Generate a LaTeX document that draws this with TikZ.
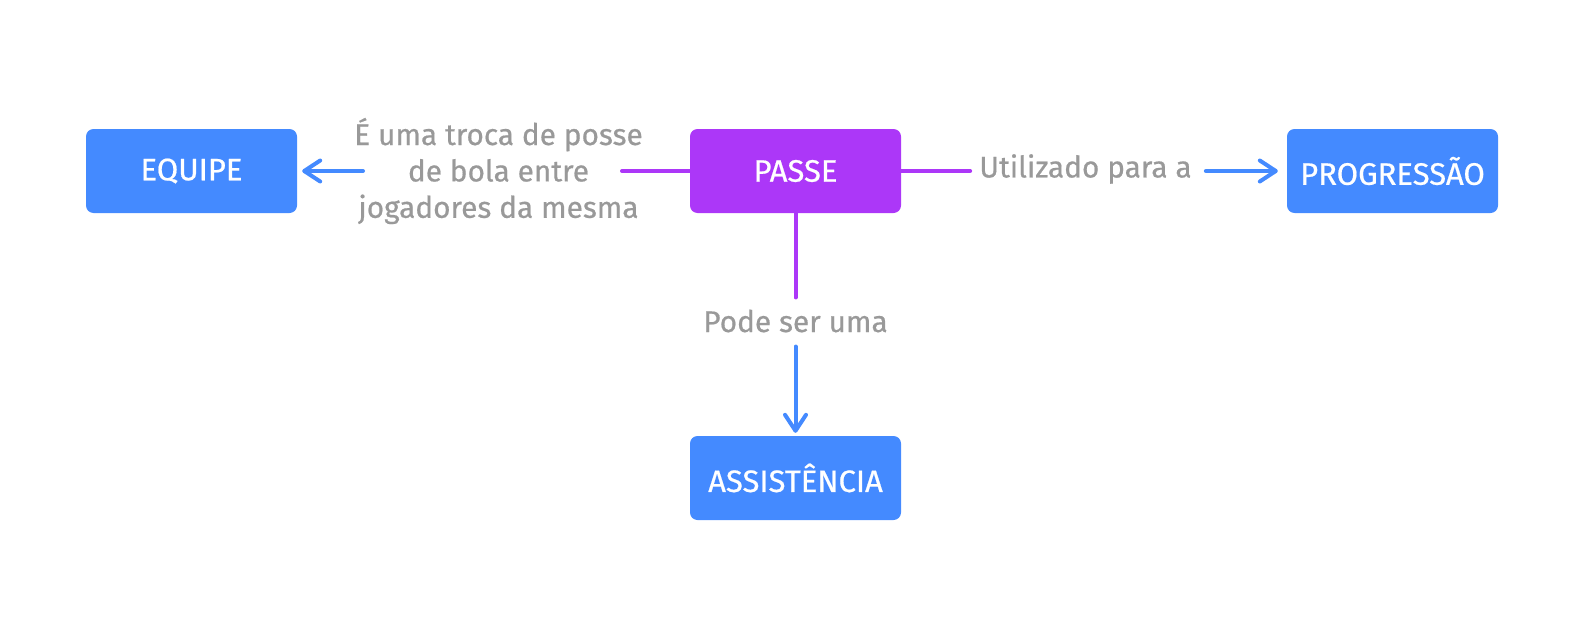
\documentclass[tikz,border=0pt]{standalone}
\usepackage{fontspec}
\setmainfont{Fira Sans}
\newfontfamily\medfont{Fira Sans}[RawFeature={embolden=0.6}]
\usetikzlibrary{arrows.meta}
\definecolor{boxblue}{HTML}{448AFF}
\definecolor{boxpurple}{HTML}{AC37F8}
\definecolor{labgray}{HTML}{999999}
\tikzset{
  x=1pt, y=-1pt,
  box/.style={rectangle, rounded corners=7.5pt, minimum width=211pt, minimum height=84pt,
    text=white, font=\medfont\fontsize{31}{34}\selectfont, inner sep=0pt},
  bluebox/.style={box, fill=boxblue},
  purplebox/.style={box, fill=boxpurple},
  lab/.style={text=labgray, font=\medfont\fontsize{29.8}{36.4}\selectfont, align=center, inner sep=0pt},
  pline/.style={draw=boxpurple, line width=4pt, line cap=round},
  barrow/.style={draw=boxblue, line width=4pt, line cap=round,
    -{Straight Barb[length=16pt,width=21pt,line width=4pt,round]}},
}
\begin{document}
\begin{tikzpicture}
\useasboundingbox (0,0) rectangle (1585,637);
\node[bluebox] (equipe) at (191.5,171) {EQUIPE};
\node[purplebox] (passe) at (795.5,171) {PASSE};
\node[bluebox] (prog) at (1392.5,171) {PROGRESSÃO};
\node[bluebox] (assist) at (795.5,478) {ASSISTÊNCIA};
\node[lab] (l1) at (498.5,171) {É uma troca de posse\\de bola entre\\jogadores da mesma};
\node[lab] (l2) at (1085.5,169) {Utilizado para a};
\node[lab, anchor=base] (l3) at (795.5,332) {Pode ser uma};
\coordinate (l1r) at (622,171);
\coordinate (l1l) at (363,171);
\draw[pline] (passe.west) -- (l1r);
\draw[barrow] (l1l) -- ([xshift=5pt]equipe.east);
\draw[pline] (passe.east) -- ([xshift=-9pt]l2.west |- passe.east);
\draw[barrow] ([xshift=14pt]l2.east |- prog.west) -- ([xshift=-9pt]prog.west);
\draw[pline] (passe.south) -- ([yshift=12pt]l3.north);
\draw[barrow] ([yshift=-14pt]l3.south) -- ([yshift=3pt]assist.north);
\end{tikzpicture}
\end{document}
